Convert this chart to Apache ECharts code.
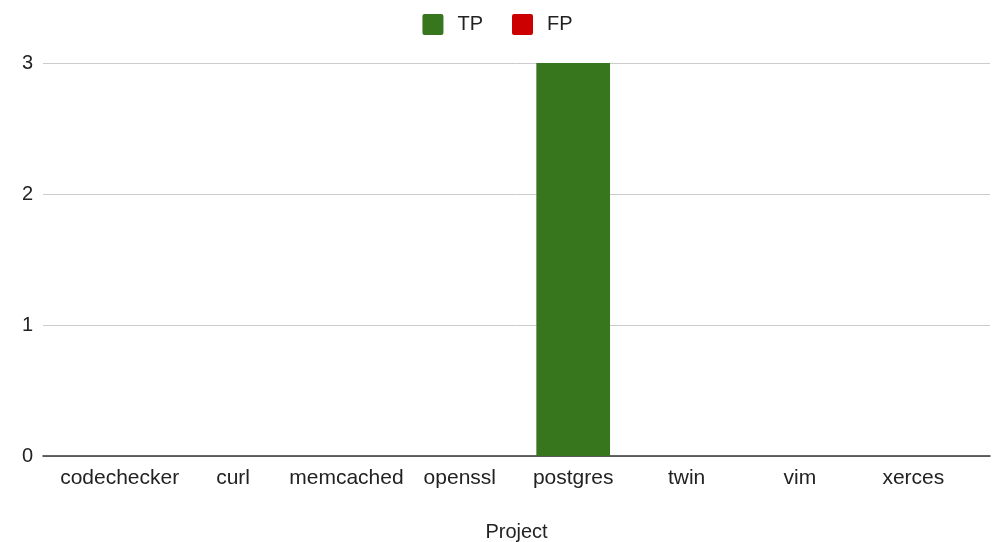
<!DOCTYPE html>
<html><head><meta charset="utf-8">
<script src="https://cdn.jsdelivr.net/npm/echarts@6/dist/echarts.min.js"></script>
<style>html,body{margin:0;padding:0;background:#fff}#c{width:995px;height:542px}</style>
</head><body><div id="c"></div>
<script>
const categories = ['codechecker','curl','memcached','openssl','postgres','twin','vim','xerces'];
const tpValues = [0,0,0,0,3,0,0,0];
const fpValues = [0,0,0,0,0,0,0,0];
const yTicks = [0,1,2,3];

const chart = echarts.init(document.getElementById('c'));
const font = 'Arial, "Liberation Sans", sans-serif';
const yMin = yTicks[0], yMax = yTicks[yTicks.length-1];
chart.setOption({
  animation:false,
  textStyle:{fontFamily:font},
  legend:{top:9,left:'center',itemWidth:21,itemHeight:21,itemGap:29,icon:'path://M2,0 H18 Q20,0 20,2 V18 Q20,20 18,20 H2 Q0,20 0,18 V2 Q0,0 2,0 Z',
    textStyle:{fontSize:20,color:'#222',fontFamily:font,padding:[0,0,0,9]},data:['TP','FP']},
  grid:[
    {left:43,right:5,top:63,bottom:86,outerBoundsMode:'none',containLabel:false},
    {left:63,right:25,top:63,bottom:86,outerBoundsMode:'none',containLabel:false}
  ],
  xAxis:[
    {gridIndex:0,type:'value',min:0,max:1,show:true,axisLine:{show:true,onZero:false,lineStyle:{color:'#333',width:1.5}},
      axisLabel:{show:false},axisTick:{show:false},splitLine:{show:false},
      name:'Project',nameLocation:'middle',nameGap:66,nameTextStyle:{fontSize:20,color:'#222',fontFamily:font}},
    {gridIndex:1,type:'category',data:categories,
      axisTick:{show:false},axisLine:{show:false},
      axisLabel:{fontSize:21,color:'#222',margin:12,interval:0,fontFamily:font}}
  ],
  yAxis:[
    {gridIndex:0,type:'value',min:yMin,max:yMax,interval:1,
      axisLabel:{fontSize:20,color:'#222',margin:10,fontFamily:font},
      splitLine:{lineStyle:{color:'#ccc',width:1}},axisLine:{show:false},axisTick:{show:false}},
    {gridIndex:1,type:'value',min:yMin,max:yMax,interval:1,show:false}
  ],
  series:[
    {name:'TP',type:'bar',stack:'s',xAxisIndex:1,yAxisIndex:1,data:tpValues,itemStyle:{color:'#38761d'},barWidth:'65%'},
    {name:'FP',type:'bar',stack:'s',xAxisIndex:1,yAxisIndex:1,data:fpValues,itemStyle:{color:'#cc0000'}}
  ]
});
</script></body></html>
